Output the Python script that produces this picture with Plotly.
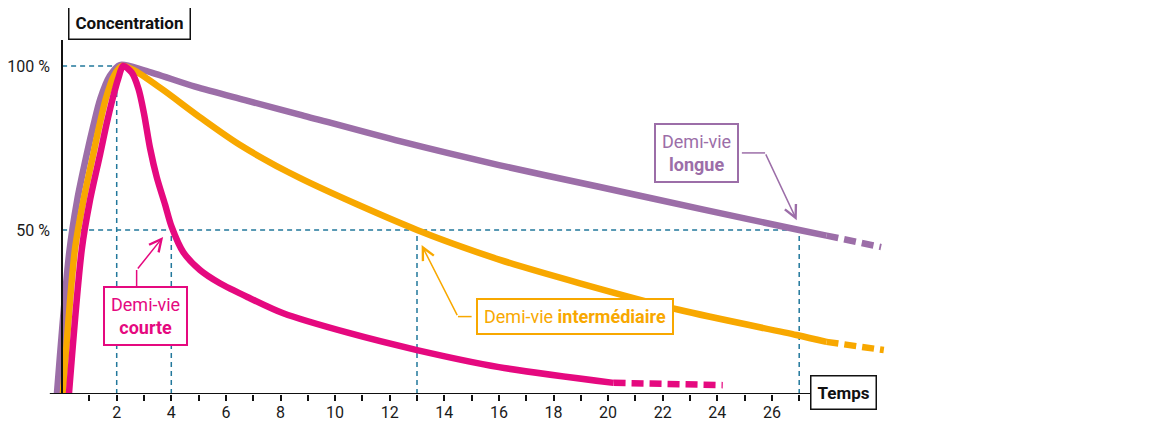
import plotly.graph_objects as go

# --- values (time units, % of peak concentration) ---
long_x = [-0.19, 0.26, 0.55, 0.9, 1.15, 1.4, 1.75, 2.12, 3.04, 4.87, 6.7, 8.7,
          12.4, 16.0, 19.7, 23.5, 27.0, 28.0]
long_y = [0, 43, 59, 73, 82, 90, 97, 100.3, 98.6, 93.7, 89.6, 85.2,
          77.0, 69.8, 63.1, 56.2, 50, 48.3]
long_dash_x = [28.0, 30.0]
long_dash_y = [48.3, 44.8]

mid_x = [0.03, 0.47, 0.78, 1.14, 1.37, 1.6, 1.9, 2.2, 2.67, 3.65, 5.11, 6.52, 8.72,
         13.0, 16.04, 18.97, 22.63, 26.9, 28.0]
mid_y = [0, 44, 59, 73, 82, 90, 97, 100, 98.5, 93.0, 84.0, 75.9, 65.8,
         50, 40.9, 33.75, 25.6, 18.0, 15.9]
mid_dash_x = [28.0, 30.1]
mid_dash_y = [15.9, 13.4]

short_x = [0.25, 0.72, 1.02, 1.39, 1.62, 1.85, 2.05, 2.24, 2.55, 2.8, 3.0, 3.22, 3.47,
           3.77, 4.01, 4.44, 5.05, 5.78, 6.88, 8.1, 10.5, 13.0, 16.0, 20.2]
short_y = [0, 44, 59, 73, 82, 90, 96, 100, 98, 93, 85.5, 75, 66,
           57.8, 51, 43.2, 37.8, 33.75, 29.2, 24.6, 18.6, 13.4, 8.2, 3.4]
short_dash_x = [20.2, 24.2]
short_dash_y = [3.4, 2.7]

peak_t = 2
half_lives = [4, 13, 27]  # courte, intermediaire, longue

x_ticks = list(range(2, 27, 2))
x_minor = list(range(1, 28, 2))
y_ticks = [50, 100]
y_ticktext = ["50 %", "100 %"]

PURPLE, ORANGE, PINK = "#9c6ea8", "#f8a800", "#e5097f"
GUIDE = "#22789c"
FONT = "Roboto, sans-serif"

# page body adds an 8px margin; figure pixels = page pixels - 8
W, H = 1152, 421
X0_PX, PX_PER_T = 62.1 - 8, 27.3       # x = 0 at this figure pixel
Y0_PX, PX_PER_PCT = 394 - 8, 3.28       # y = 0 at this figure pixel
TOP_PX = 40 - 8

fig = go.Figure()
for xs, ys, dx, dy, c in [
    (long_x, long_y, long_dash_x, long_dash_y, PURPLE),
    (mid_x, mid_y, mid_dash_x, mid_dash_y, ORANGE),
    (short_x, short_y, short_dash_x, short_dash_y, PINK),
]:
    fig.add_trace(go.Scatter(x=xs, y=ys, mode="lines",
                             line=dict(color=c, width=6.5, shape="spline", smoothing=0.8),
                             hoverinfo="skip", showlegend=False))
    fig.add_trace(go.Scatter(x=dx, y=dy, mode="lines", line=dict(color=c, width=6.5, dash="12px,6px"),
                             hoverinfo="skip", showlegend=False))

# dotted guides: peak and half-lives
guide = dict(color=GUIDE, width=1.5, dash="5px,4px")
fig.add_shape(type="line", x0=0, x1=peak_t, y0=100, y1=100, line=guide, layer="below")
fig.add_shape(type="line", x0=peak_t, x1=peak_t, y0=0, y1=100, line=guide, layer="below")
fig.add_shape(type="line", x0=0, x1=max(half_lives), y0=50, y1=50, line=guide, layer="below")
for t in half_lives:
    fig.add_shape(type="line", x0=t, x1=t, y0=0, y1=50, line=guide, layer="below")

# x axis line (stops at the "Temps" box)
fig.add_shape(type="line", x0=-0.45, x1=27.45, y0=0, y1=0, line=dict(color="#111", width=2))


# label boxes with bent leader arrows
def label(x, y, text, color, start, bend, tip):
    fig.add_annotation(x=x, y=y, text=text, showarrow=False, bgcolor="white",
                       bordercolor=color, borderwidth=2, borderpad=6,
                       font=dict(family=FONT, size=18, color=color))
    fig.add_shape(type="line", x0=start[0], y0=start[1], x1=bend[0], y1=bend[1],
                  line=dict(color=color, width=1.5))
    fig.add_annotation(x=tip[0], y=tip[1], ax=bend[0], ay=bend[1], axref="x", ayref="y",
                       text="", showarrow=True, arrowhead=5, arrowsize=1.6, arrowwidth=1.5,
                       arrowcolor=color)


label(3.05, 23.7, "Demi-vie<br><b>courte</b>", PINK, (2.73, 32.3), (2.73, 37.8), (3.7, 47.9))
label(18.78, 23.6, "Demi-vie <b>intermédiaire</b>", ORANGE, (15.0, 23.6), (14.5, 23.6), (13.17, 45.4))
label(23.24, 73.6, "Demi-vie<br><b>longue</b>", PURPLE, (24.9, 73.5), (25.75, 73.5), (26.91, 53.0))

fig.add_annotation(xref="paper", yref="paper", x=(67.5 - 8) / W,
                   y=(Y0_PX - (22.5 - 8)) / (Y0_PX - TOP_PX),
                   text="<b>Concentration</b>", showarrow=False, bgcolor="white",
                   bordercolor="#111", borderwidth=1.5, borderpad=6, yanchor="middle",
                   font=dict(family=FONT, size=17, color="#111"))
fig.add_annotation(x=28.62, y=0.5, text="<b>Temps</b>", showarrow=False, bgcolor="white",
                   bordercolor="#111", borderwidth=1.5, borderpad=6, yanchor="middle",
                   font=dict(family=FONT, size=17, color="#111"))

fig.update_layout(
    width=W, height=H, margin=dict(l=0, r=0, t=TOP_PX, b=H - Y0_PX),
    plot_bgcolor="white", paper_bgcolor="white",
    xaxis=dict(range=[-X0_PX / PX_PER_T, (W - X0_PX) / PX_PER_T], tickvals=x_ticks,
               ticks="outside", ticklen=6, tickwidth=1.5, tickcolor="#111", showgrid=False,
               zeroline=False, showline=False, automargin=False, ticklabelstandoff=-2,
               tickfont=dict(family=FONT, size=16, color="#1a1a1a"),
               minor=dict(tickvals=x_minor, ticks="outside", ticklen=6, tickwidth=1.5,
                          tickcolor="#111", showgrid=False)),
    yaxis=dict(range=[0, (Y0_PX - TOP_PX) / PX_PER_PCT], tickvals=y_ticks, ticktext=y_ticktext,
               ticks="", ticklabelstandoff=8, anchor="free", position=X0_PX / W,
               showline=True, linecolor="#111", linewidth=2, showgrid=False, zeroline=False,
               automargin=False, tickfont=dict(family=FONT, size=16, color="#1a1a1a")),
)
fig.write_html("out.html")
